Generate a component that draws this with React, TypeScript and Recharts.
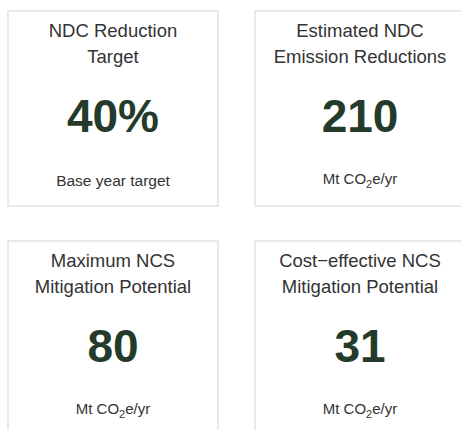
import React from "react";
import { Surface, Rectangle } from "recharts";

const titleLine1 = ["NDC Reduction", "Estimated NDC", "Maximum NCS", "Cost\u2212effective NCS"];
const titleLine2 = ["Target", "Emission Reductions", "Mitigation Potential", "Mitigation Potential"];
const values = [40, 210, 80, 31];
const valueSuffix = ["%", "", "", ""];
const unitKind = ["text", "co2", "co2", "co2"];
const unitText = ["Base year target", "Mt CO2e/yr", "Mt CO2e/yr", "Mt CO2e/yr"];

const FONT = "Arial, \"Liberation Sans\", Helvetica, sans-serif";
const W = 461;
const H = 430;
const CARD_W = 210;
const CARD_H = 195;
const LEFT = 8;
const TOP = 11;
const COL_STEP = 247;
const ROW_STEP = 230;

const baseStyle: React.CSSProperties = { fontFamily: FONT, fill: "#333333" };

function Unit({ i, cx, y }: { i: number; cx: number; y: number }) {
  if (unitKind[i] === "co2") {
    return (
      <text x={cx} y={y} textAnchor="middle" style={{ ...baseStyle, fontSize: 15 }}>
        <tspan>Mt CO</tspan>
        <tspan style={{ fontSize: 11 }} dy={4}>2</tspan>
        <tspan dy={-4}>e/yr</tspan>
      </text>
    );
  }
  return (
    <text x={cx} y={y + 2} textAnchor="middle" style={{ ...baseStyle, fontSize: 15.5 }}>
      {unitText[i]}
    </text>
  );
}

export default function App() {
  return (
    <div style={{ position: "absolute", left: 0, top: 0, width: W, height: H, background: "#ffffff" }}>
      <Surface width={W} height={H} viewBox={{ x: 0, y: 0, width: W, height: H }}>
        {values.map((v, i) => {
          const col = i % 2;
          const row = Math.floor(i / 2);
          const x = LEFT + col * COL_STEP;
          const y = TOP + row * ROW_STEP;
          const cx = x + CARD_W / 2;
          return (
            <g key={i}>
              <Rectangle x={x} y={y} width={CARD_W} height={CARD_H} fill="#ffffff" stroke="#e4e2e2" strokeWidth={1.5} />
              <text x={cx} y={y + 26} textAnchor="middle" style={{ ...baseStyle, fontSize: 18.5 }}>
                {titleLine1[i]}
              </text>
              <text x={cx} y={y + 52} textAnchor="middle" style={{ ...baseStyle, fontSize: 18.5 }}>
                {titleLine2[i]}
              </text>
              <text x={cx} y={y + 121} textAnchor="middle" style={{ fontFamily: FONT, fontSize: 46, fontWeight: "bold", fill: "#243a2a" }}>
                {`${v}${valueSuffix[i]}`}
              </text>
              <Unit i={i} cx={cx} y={y + 173} />
            </g>
          );
        })}
      </Surface>
    </div>
  );
}
